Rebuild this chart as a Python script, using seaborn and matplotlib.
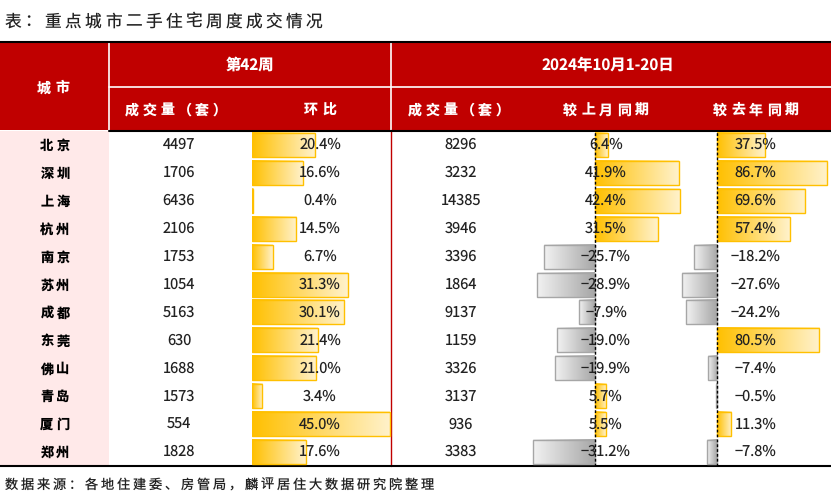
import numpy as np
import pandas as pd
import matplotlib
matplotlib.use("Agg")
import matplotlib.pyplot as plt
from matplotlib.colors import LinearSegmentedColormap
import seaborn as sns

sns.set_theme(style="white")
plt.rcParams["font.family"] = ["Noto Sans CJK SC", "DejaVu Sans"]
plt.rcParams["text.hinting"] = "none"
plt.rcParams["text.hinting_factor"] = 1

# ------------------------------------------------------
# Data
# ------------------------------------------------------

cities = ["北京", "深圳", "上海", "杭州", "南京", "苏州",
          "成都", "东莞", "佛山", "青岛", "厦门", "郑州"]
week_volume = [4497, 1706, 6436, 2106, 1753, 1054, 5163, 630, 1688, 1573, 554, 1828]
week_wow = [20.4, 16.6, 0.4, 14.5, 6.7, 31.3, 30.1, 21.4, 21.0, 3.4, 45.0, 17.6]
month_volume = [8296, 3232, 14385, 3946, 3396, 1864, 9137, 1159, 3326, 3137, 936, 3383]
month_mom = [6.4, 41.9, 42.4, 31.5, -25.7, -28.9, -7.9, -19.0, -19.9, 5.7, 5.5, -31.2]
month_yoy = [37.5, 86.7, 69.6, 57.4, -18.2, -27.6, -24.2, 80.5, -7.4, -0.5, 11.3, -7.8]

title = "表：重点城市二手住宅周度成交情况"
source = "数据来源：各地住建委、房管局，麟评居住大数据研究院整理"
week_label = "第42周"
period_label = "2024年10月1-20日"

df = pd.DataFrame({"city": cities, "wvol": week_volume, "wow": week_wow,
                   "mvol": month_volume, "mom": month_mom, "yoy": month_yoy})

# ------------------------------------------------------
# Layout (pixel coords)
# ------------------------------------------------------

W, H = 831, 501
RED = "#C00000"
body_top, body_bot = 131, 466
row_h = (body_bot - body_top) / len(cities)

pos_cmap = LinearSegmentedColormap.from_list("pos", ["#FFC000", "#FFF2CC"])
neg_cmap = LinearSegmentedColormap.from_list("neg", ["#F2F2F2", "#A6A6A6"])


def fig_box(x0, x1, y0, y1):
    return [x0 / W, 1 - y1 / H, (x1 - x0) / W, (y1 - y0) / H]


def spaced(ax, cx, y, s, pitch, fontsize, **kw):
    # one glyph at a time, on a common baseline
    start = cx - pitch * (len(s) - 1) / 2
    base_y = y + 0.38 * fontsize * 100 / 72
    for k, ch in enumerate(s):
        ax.text(start + k * pitch, base_y, ch, ha="center", va="baseline",
                fontsize=fontsize, **kw)


def bar_column(x0, x1, zero_px, px_per_unit, col, dashed):
    ax = fig.add_axes(fig_box(x0, x1, body_top, body_bot), zorder=1)
    sns.barplot(data=df, x=col, y="city", orient="h", ax=ax,
                errorbar=None, width=0.86, color="#FFC000")
    xlim = ((x0 - zero_px) / px_per_unit, (x1 - zero_px) / px_per_unit)
    grad = np.linspace(0, 1, 256).reshape(1, -1)
    for p in ax.patches:
        bx, by, bw, bh = p.get_x(), p.get_y(), p.get_width(), p.get_height()
        if bw >= 0:
            ax.imshow(grad, cmap=pos_cmap, extent=(bx, bx + bw, by + bh, by),
                      aspect="auto", zorder=1, interpolation="bilinear")
            p.set_edgecolor("#FFC000")
        else:
            ax.imshow(grad, cmap=neg_cmap, extent=(bx + bw, bx, by + bh, by),
                      aspect="auto", zorder=1, interpolation="bilinear")
            p.set_edgecolor("#A6A6A6")
        p.set_facecolor("none")
        p.set_linewidth(1.0)
        p.set_zorder(2)
    if dashed:
        ax.axvline(0, color="black", ls=(0, (2, 1.5)), lw=1, zorder=3)
    ax.set_xlim(*xlim)
    ax.set_ylim(len(cities) - 0.5, -0.5)
    ax.axis("off")
    ax.patch.set_alpha(0)
    return ax


fig = plt.figure(figsize=(8.31, 5.01), dpi=100)

# background / grid layer
base = fig.add_axes([0, 0, 1, 1], zorder=0)
base.set_xlim(0, W)
base.set_ylim(H, 0)
base.axis("off")

base.fill_between([0, W], 43, 130, color=RED, lw=0)
base.fill_between([0, 109], body_top, body_bot, color="#FFE9E9", lw=0)
base.plot([109, W], [86.5, 86.5], color="white", lw=1.2)
for xv in [109, 391]:
    base.plot([xv, xv], [43, 130], color="white", lw=1.2)
base.plot([391, 391], [130, body_bot], color=RED, lw=1.0)
base.plot([0, W], [42, 42], color="black", lw=1.5)
base.plot([109, W], [130.5, 130.5], color="black", lw=1.5)
base.plot([0, W], [body_bot, body_bot], color="black", lw=1.5)

# bar columns
bar_column(252, 392, 252, 138 / 45.0, "wow", False)
bar_column(520, 700, 595, 2.0, "mom", True)
bar_column(660, 831, 717, 1.27, "yoy", True)

# text layer
top = fig.add_axes([0, 0, 1, 1], zorder=3)
top.set_xlim(0, W)
top.set_ylim(H, 0)
top.axis("off")
top.patch.set_alpha(0)

spaced(top, 163.5, 20, title, 20.1, 12, color="#222222")
spaced(top, 219, 484, source, 16.0, 9.5, color="#222222")

hdr = dict(color="white", fontweight="bold")
spaced(top, 53, 87, "城市", 18, 10, **hdr)
top.text(250, 65, week_label, ha="center", va="center", color="white",
         fontsize=11, fontweight="bold")
top.text(608, 65, period_label, ha="center", va="center", color="white",
         fontsize=11, fontweight="bold")
spaced(top, 176, 109, "成交量（套）", 17.5, 10, **hdr)
spaced(top, 320, 109, "环比", 18, 10, **hdr)
spaced(top, 459, 109, "成交量（套）", 17.5, 10, **hdr)
spaced(top, 606, 109, "较上月同期", 18, 10, **hdr)
spaced(top, 756, 109, "较去年同期", 18, 10, **hdr)

for i, row in df.iterrows():
    y = body_top + row_h * (i + 0.5)
    spaced(top, 55, y, row["city"], 16, 9.5, fontweight="bold", color="black")
    top.text(179, y, f"{row['wvol']}", ha="center", va="center", fontsize=10.5, color="#222222")
    top.text(320, y, f"{row['wow']:.1f}%", ha="center", va="center", fontsize=10.5, color="#222222")
    top.text(461, y, f"{row['mvol']}", ha="center", va="center", fontsize=10.5, color="#222222")
    top.text(606, y, f"{row['mom']:.1f}%".replace("-", "−"), ha="center", va="center",
             fontsize=10.5, color="#222222")
    top.text(755.5, y, f"{row['yoy']:.1f}%".replace("-", "−"), ha="center", va="center",
             fontsize=10.5, color="#222222")

fig.savefig("out.png", dpi=100)
